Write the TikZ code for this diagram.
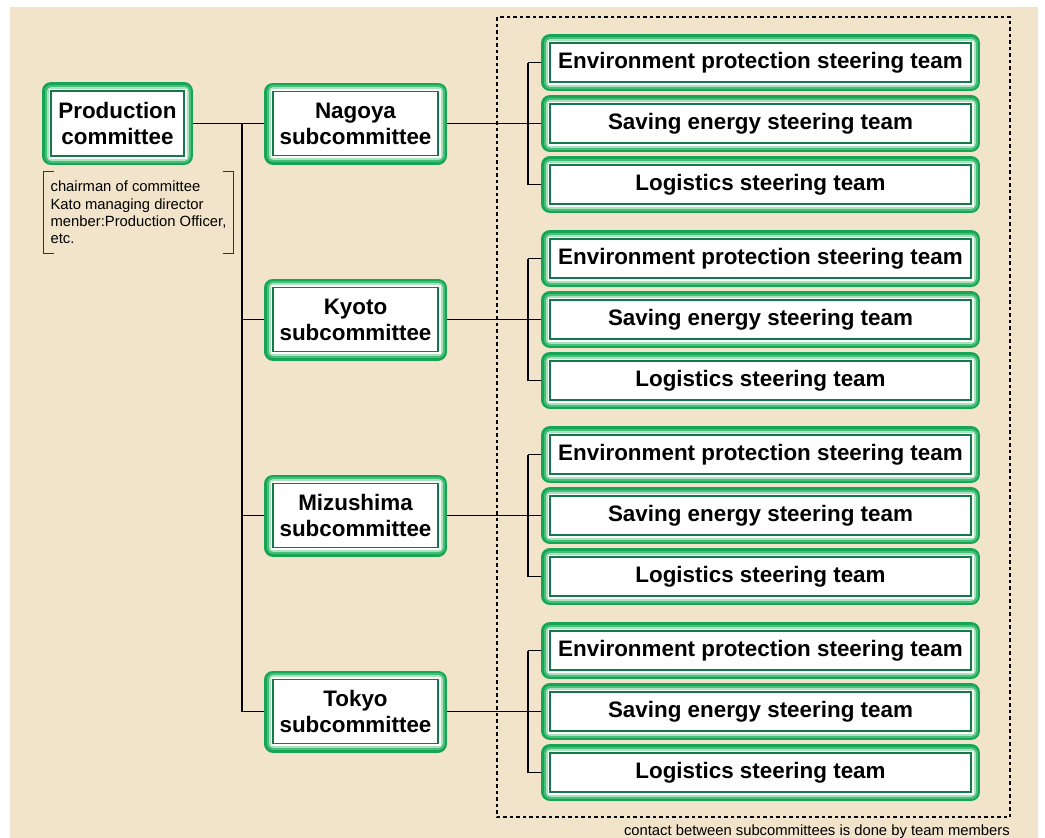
\documentclass[tikz,border=0pt]{standalone}
\usepackage{fontspec}
\setmainfont{Liberation Sans}
\usepackage{tikz}
\definecolor{paper}{RGB}{241,228,202}
\definecolor{boxline}{RGB}{20,120,75}
\definecolor{glowdark}{RGB}{22,165,85}
\definecolor{glowmid}{RGB}{70,192,120}
\definecolor{glowlight}{RGB}{170,226,190}
\newcommand*\glowwidth{9pt}
\newcommand*\boxfont{\fontsize{22.4}{26}\selectfont\bfseries}
\newcommand*\notefont{\fontsize{14.8}{17.4}\selectfont}
\tikzset{
    glowbox/.style = {draw=boxline, line width=1.4pt, fill=white,
                    inner sep=0pt, outer sep=\glowwidth,
                    align=center, font=\boxfont,
                    preaction={draw=glowdark, line width=18pt, line join=round},
                    preaction={draw=glowmid, line width=13pt, line join=round},
                    preaction={draw=glowlight, line width=9pt, line join=round},
                    preaction={draw=white, line width=5pt}},
    prodbox/.style = {glowbox, minimum width=133pt, minimum height=65pt},
    subbox/.style  = {glowbox, minimum width=165pt, minimum height=64pt},
    teambox/.style = {glowbox, minimum width=421pt, minimum height=39pt},
    notebox/.style = {minimum width=189pt, minimum height=81pt,
                    inner sep=0pt, align=left, font=\notefont},
    wire/.style    = {draw=black, line width=1.4pt},
    bracket/.style = {draw=black!80, line width=0.9pt},
    teamframe/.style = {draw=black, line width=1.3pt, dash pattern=on 3.5pt off 3pt},
  }
\begin{document}
\begin{tikzpicture}[x=1pt,y=-1pt]
    % page size and paper
    \useasboundingbox (0,0) rectangle (1045,838);
    \fill[paper] (10,7) rectangle (1038,838);

    % dotted frame round the steering teams
    \draw[teamframe] (497,17) rectangle (1010,817);

    % production committee and its members note
    \node[prodbox] (prod) at (117.5,123.5) {Production\\committee};
    \node[notebox] (chair) at (138.5,212.5)
        {chairman of committee\\Kato managing director\\menber:Production Officer,\\etc.};
    \draw[bracket] ([xshift=10pt]chair.north west) -| (chair.south west) -- ++(10,0);
    \draw[bracket] ([xshift=-10pt]chair.north east) -| (chair.south east) -- ++(-10,0);

    % subcommittees, each with its three steering teams
    \foreach \site [count=\i from 1] in {Nagoya,Kyoto,Mizushima,Tokyo} {
        \node[subbox] (sub-\i) at (355.5,{123.5+196*(\i-1)}) {\site\\subcommittee};
        \foreach \team [count=\j from 1] in {Environment protection steering team,
                Saving energy steering team,Logistics steering team} {
            \node[teambox] (team-\i-\j) at (760.5,{123.5+196*(\i-1)+61*(\j-2)}) {\team};
        }
    }

    % trunk from the production committee
    \coordinate (trunk) at (242,0);
    \coordinate (bus) at (528,0);
    \draw[wire] (prod.east) -- (sub-1.west);
    \draw[wire] (prod.east -| trunk) -- (sub-4.west -| trunk);
    \foreach \i in {2,3,4} {
        \draw[wire] (sub-\i.west -| trunk) -- (sub-\i.west);
    }

    % buses to the teams
    \foreach \i in {1,...,4} {
        \draw[wire] (sub-\i.east) -- (sub-\i.east -| bus);
        \draw[wire] (team-\i-1.west -| bus) -- (team-\i-3.west -| bus);
        \foreach \j in {1,2,3} {
            \draw[wire] (team-\i-\j.west -| bus) -- (team-\i-\j.west);
        }
    }

    % note under the frame
    \node[font=\notefont, anchor=base east, inner sep=0pt] (contact) at (1010,835)
        {contact between subcommittees is done by team members};
\end{tikzpicture}
\end{document}
